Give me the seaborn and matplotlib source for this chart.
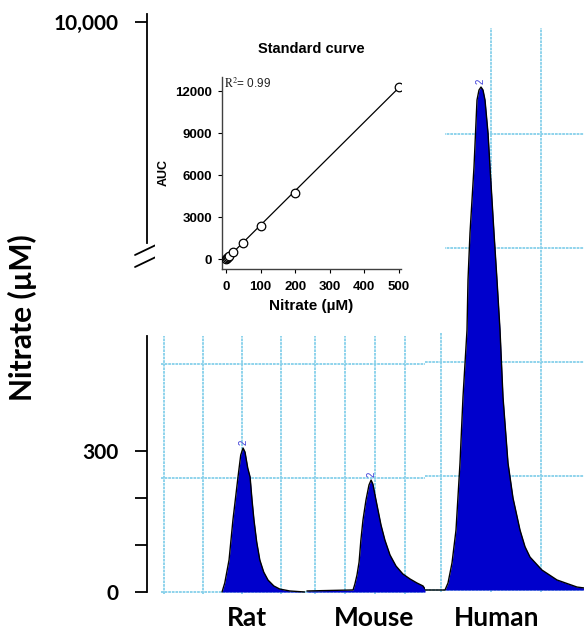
import numpy as np
import matplotlib
matplotlib.use("Agg")
import matplotlib.pyplot as plt
import seaborn as sns
from matplotlib.lines import Line2D

# ---- data ----
# standard curve (inset)
std_nitrate = [0, 2.5, 5, 10, 20, 50, 100, 200, 500]
std_auc = [0, 60, 120, 240, 470, 1170, 2380, 4750, 12300]
r2 = "0.99"

# chromatogram traces (retention in grid units, signal in grid units x100)
rat_t = [1.49, 1.56, 1.67, 1.77, 1.90, 1.97, 2.03, 2.08, 2.15, 2.21, 2.26, 2.31,
         2.38, 2.46, 2.56, 2.67, 2.82, 2.97, 3.23, 3.62]
rat_s = [0, 7.9, 28.1, 63.2, 100.9, 120.2, 126.3, 122.8, 108.8, 100.9, 80.7, 63.2,
         43.9, 28.1, 17.5, 10.5, 5.3, 2.6, 0.9, 0]

mouse_t = [-0.27, 1.27, 1.33, 1.40, 1.47, 1.53, 1.60, 1.70, 1.80, 1.87, 1.93, 2.00,
           2.10, 2.20, 2.33, 2.50, 2.70, 2.93, 3.17, 3.40, 3.60, 3.67]
mouse_s = [0.9, 1.8, 7.0, 14.9, 26.3, 45.6, 63.2, 80.7, 93.9, 98.2, 94.7, 85.1,
           71.9, 58.8, 45.6, 32.5, 22.8, 15.8, 11.4, 7.9, 5.3, 2.6]

human_t = [-0.32, 0.08, 0.14, 0.22, 0.30, 0.38, 0.44, 0.52, 0.54, 0.58, 0.62, 0.66,
           0.72, 0.76, 0.80, 0.84, 0.88, 0.94, 0.98, 1.02, 1.06, 1.12, 1.18, 1.24,
           1.34, 1.44, 1.58, 1.68, 1.78, 2.02, 2.32, 2.72, 2.86]
human_s = [0, 0, 6.1, 23.7, 52.6, 111.4, 169.3, 228.1, 271.9, 313.2, 342.1, 371.1,
           429.8, 438.6, 441.2, 438.6, 429.8, 400.9, 371.1, 342.1, 313.2, 271.9, 228.1, 169.3,
           111.4, 80.7, 52.6, 38.0, 28.9, 17.5, 8.8, 2.6, 1.8]

species = ["Rat", "Mouse", "Human"]
peak_label = "2"

low_ticks = [0, 100, 200, 300]
low_labels = ["0", "", "", "300"]
high_ticks = [10000]
high_labels = ["10,000"]

# ---- style ----
sns.set_theme(style="white")
plt.rcParams["font.family"] = ["Liberation Sans", "DejaVu Sans"]
plt.rcParams["mathtext.fontset"] = "stix"
plt.rcParams["text.color"] = "black"
plt.rcParams["axes.labelcolor"] = "black"
plt.rcParams["xtick.color"] = "black"
plt.rcParams["ytick.color"] = "black"
calibri_like = ["Lato", "DejaVu Sans"]
grid_c = "#86d0ea"
fill_c = "#0000cc"

W, H = 584, 630
fig = plt.figure(figsize=(W / 100, H / 100), dpi=100)


def px_box(x0, y0, x1, y1):
    return [x0 / W, 1 - y1 / H, (x1 - x0) / W, (y1 - y0) / H]


def bare(ax):
    for sp in ax.spines.values():
        sp.set_visible(False)
    ax.tick_params(length=0, labelbottom=False, labelleft=False)


# ---- chromatogram panels ----
panels = [
    (rat_t, rat_s, px_box(161, 336, 305, 594), (-0.077, 3.62), (-1.75, 224.6), [0, 1, 2, 3], [0, 100, 200]),
    (mouse_t, mouse_s, px_box(305, 336, 425, 594), (-0.333, 3.667), (-1.75, 224.6), [0, 1, 2, 3], [0, 100, 200]),
    (human_t, human_s, px_box(425, 28, 584, 592), (-0.32, 2.86), (-1.75, 493), [0, 1, 2], [0, 100, 200, 300, 400]),
]
for t, s, box, xl, yl, xt, yt in panels:
    ax = fig.add_axes(box)
    ax.set_facecolor("none")
    ax.set_xlim(*xl)
    ax.set_ylim(*yl)
    ax.set_xticks(xt)
    ax.set_yticks(yt)
    bare(ax)
    ax.grid(True, color=grid_c, lw=1.3, ls=(0, (1.5, 0.5)))
    ax.set_axisbelow(True)
    ax.fill_between(t, s, 0, color=fill_c, lw=0, zorder=2)
    sns.lineplot(x=t, y=s, ax=ax, color="black", lw=1, sort=False, estimator=None, zorder=3)
    i = int(np.argmax(s))
    ax.annotate(peak_label, (t[i], s[i]), xytext=(0, 2), textcoords="offset points",
                rotation=90, ha="center", va="bottom", fontsize=7, color="#3c3cd6")

# ---- white backing behind the inset ----
cover = fig.add_axes(px_box(155, 28, 445, 333))
cover.set_facecolor("white")
cover.set_xticks([])
cover.set_yticks([])
for sp in cover.spines.values():
    sp.set_visible(False)
cover.set_zorder(5)

# ---- inset standard curve ----
axi = fig.add_axes(px_box(222, 77, 401, 269))
axi.set_zorder(6)
axi.set_facecolor("none")
sns.regplot(x=std_nitrate, y=std_auc, ax=axi, scatter=False, ci=None, truncate=True,
            line_kws=dict(color="black", lw=0.9))
sns.scatterplot(x=std_nitrate, y=std_auc, ax=axi, marker="o", s=38, facecolor="white",
                edgecolor="black", linewidth=0.9, zorder=3)
axi.set_xlim(-11.6, 506)
axi.set_ylim(-714, 13000)
axi.set_xticks([0, 100, 200, 300, 400, 500])
axi.set_yticks([0, 3000, 6000, 9000, 12000])
for side in ["top", "right"]:
    axi.spines[side].set_visible(False)
for side in ["left", "bottom"]:
    axi.spines[side].set_color("#404040")
    axi.spines[side].set_linewidth(1)
axi.tick_params(axis="x", direction="out", length=3, width=0.8, pad=6, labelsize=9.5, bottom=True)
axi.tick_params(axis="y", direction="out", length=3, width=0.8, pad=4, labelsize=9.5, left=True)
for lab in axi.get_xticklabels() + axi.get_yticklabels():
    lab.set_fontweight("bold")
axi.set_xlabel("Nitrate (µM)", fontsize=11, fontweight="bold", labelpad=4)
axi.set_ylabel("AUC", fontsize=9, fontweight="bold", labelpad=4)
axi.set_title("Standard curve", fontsize=10.5, fontweight="bold", pad=17)
axi.text(0.01, 1.0, r"$\mathrm{R}^2$= " + r2, transform=axi.transAxes, ha="left", va="top",
         fontsize=8.5, color="#222222")

# ---- main broken y axis ----
ax_lo = fig.add_axes(px_box(147, 336, 160, 592))
ax_lo.set_facecolor("none")
ax_lo.set_ylim(0, 545)
ax_lo.set_yticks(low_ticks)
ax_lo.set_yticklabels(low_labels)
ax_lo.set_xticks([])
ax_hi = fig.add_axes(px_box(147, 14, 160, 243))
ax_hi.set_facecolor("none")
ax_hi.set_ylim(5580, 10160)
ax_hi.set_yticks(high_ticks)
ax_hi.set_yticklabels(high_labels)
ax_hi.set_xticks([])
for ax in (ax_lo, ax_hi):
    for side in ["top", "right", "bottom"]:
        ax.spines[side].set_visible(False)
    ax.spines["left"].set_color("black")
    ax.spines["left"].set_linewidth(1.3)
    ax.tick_params(axis="y", direction="out", length=8.6, width=1.3, pad=12, left=True)
    for lab in ax.get_yticklabels():
        lab.set_fontweight("bold")
        lab.set_fontsize(15)
        lab.set_family(calibri_like)

# axis break marks
for y0 in (255, 267):
    fig.add_artist(Line2D([135 / W, 158 / W], [1 - y0 / H, 1 - (y0 - 11) / H],
                          color="black", lw=1.3))

fig.text(22 / W, 1 - 318 / H, "Nitrate (µM)", rotation=90, ha="center", va="center",
         fontsize=21.5, fontweight="bold", family=calibri_like)

for name, xc in zip(species, [247, 374, 497]):
    fig.text(xc / W, 1 - 618 / H, name, ha="center", va="center", fontsize=19,
             fontweight="bold", family=calibri_like)

fig.savefig("out.png", dpi=100)
